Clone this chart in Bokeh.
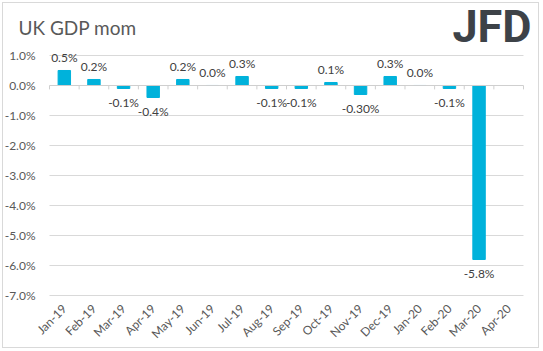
import math
from bokeh.plotting import figure
from bokeh.models import Label, LinearAxis, FixedTicker, PrintfTickFormatter
from bokeh.core.properties import value
from bokeh.embed import file_html
from bokeh.resources import INLINE

months = ["Jan-19", "Feb-19", "Mar-19", "Apr-19", "May-19", "Jun-19", "Jul-19", "Aug-19",
          "Sep-19", "Oct-19", "Nov-19", "Dec-19", "Jan-20", "Feb-20", "Mar-20", "Apr-20"]
gdp_mom = [0.5, 0.2, -0.1, -0.4, 0.2, 0.0, 0.3, -0.1, -0.1, 0.1, -0.3, 0.3, 0.0, -0.1, -5.8, None]
data_labels = ["0.5%", "0.2%", "-0.1%", "-0.4%", "0.2%", "0.0%", "0.3%", "-0.1%",
               "-0.1%", "0.1%", "-0.30%", "0.3%", "0.0%", "-0.1%", "-5.8%", ""]
y_ticks = [-7, -6, -5, -4, -3, -2, -1, 0, 1]

FONT = "Lato"
GREY = "#595959"
BAR = "#00B2DB"

n = len(months)
idx = list(range(n))
vals = [v for v in gdp_mom if v is not None]
xi = [i for i, v in zip(idx, gdp_mom) if v is not None]
labs = [l for l, v in zip(data_labels, gdp_mom) if v is not None]

pos = [(i, v, l) for i, v, l in zip(xi, vals, labs) if v >= 0]
neg = [(i, v, l) for i, v, l in zip(xi, vals, labs) if v < 0]

p = figure(width=537, height=346, output_backend="svg", toolbar_location=None,
           x_range=(-2.053, 16.074), y_range=(-7.2, 2.733), y_axis_location=None,
           min_border_left=0, min_border_right=0, min_border_top=0, min_border_bottom=48)
p.styles = {"border": "1px solid #d9d9d9", "margin": "2px"}
p.outline_line_color = None
p.background_fill_color = "white"
p.border_fill_color = "white"
p.grid.visible = False

# horizontal gridlines across the category band
grid_y = [t for t in y_ticks if t != 0]
p.segment(x0=[-0.5] * len(grid_y), x1=[n - 0.5] * len(grid_y), y0=grid_y, y1=grid_y,
          line_color="#d9d9d9", line_width=1)

p.vbar(x=xi, top=vals, bottom=0, width=0.42, color=BAR)

# zero axis line and category boundary ticks
p.segment(x0=[-0.5], x1=[n - 0.5], y0=[0], y1=[0], line_color="#cfcfcf", line_width=1)
bounds = [i - 0.5 for i in range(n + 1)]
p.segment(x0=bounds, y0=[0] * len(bounds), x1=bounds, y1=[-0.13] * len(bounds),
          line_color="#cfcfcf", line_width=1)

p.text(x=[t[0] for t in pos], y=[t[1] for t in pos], text=[t[2] for t in pos],
       text_align="center", text_baseline="middle", y_offset=-13,
       text_font=value(FONT), text_font_size="12px", text_color="#404040")
p.text(x=[t[0] for t in neg], y=[t[1] for t in neg], text=[t[2] for t in neg],
       text_align="center", text_baseline="middle", y_offset=14,
       text_font=value(FONT), text_font_size="12px", text_color="#404040")

# y axis, fixed at the left edge of the category band
yax = LinearAxis(fixed_location=-0.5, ticker=FixedTicker(ticks=y_ticks),
                 formatter=PrintfTickFormatter(format="%.1f%%"))
yax.axis_line_color = None
yax.major_tick_line_color = None
yax.minor_tick_line_color = None
yax.major_label_text_font = FONT
yax.major_label_text_font_size = "12px"
yax.major_label_text_color = GREY
yax.major_label_standoff = 8
p.add_layout(yax, "left")

# x axis
p.xaxis.ticker = FixedTicker(ticks=idx)
p.xaxis.major_label_overrides = {i: m for i, m in zip(idx, months)}
p.xaxis.major_label_orientation = math.pi / 4
p.xaxis.axis_line_color = None
p.xaxis.major_tick_line_color = None
p.xaxis.minor_tick_line_color = None
p.xaxis.major_label_text_font = FONT
p.xaxis.major_label_text_font_size = "12px"
p.xaxis.major_label_text_color = GREY
p.xaxis.major_label_standoff = -1

# title
p.add_layout(Label(x=-1.546, y=1.917, text="UK GDP mom",
                   text_font=FONT, text_font_size="19px", text_color=GREY,
                   text_baseline="middle"))

# logo
p.add_layout(Label(x=13.10, y=1.967, text="JFD",
                   text_font="Roboto", text_font_style="bold", text_font_size="45px",
                   text_color="#3d4248", text_baseline="middle"))

open("out.html", "w").write(file_html(p, INLINE))
